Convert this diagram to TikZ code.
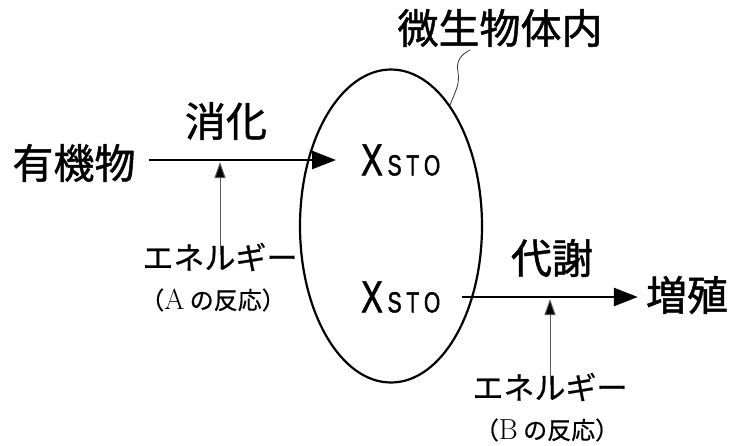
\documentclass[tikz,border=0pt]{standalone}
\usepackage{fontspec}
\newfontfamily\jp[FakeBold=1.2]{Noto Sans CJK JP}
\newfontfamily\jpl[FakeBold=0.6]{Noto Sans CJK JP}
\newfontfamily\nar[FakeStretch=0.72,FakeBold=1.5]{Liberation Sans}
\usetikzlibrary{arrows.meta,shapes.geometric}
\newcommand{\latinletter}[1]{{\rmfamily\fontsize{29}{29}\selectfont #1}}
\begin{document}
\begin{tikzpicture}[x=1pt,y=-1pt,
  big/.style={font=\jp\fontsize{41}{41}\selectfont, inner sep=0pt},
  mid/.style={font=\jpl\fontsize{31}{31}\selectfont, inner sep=0pt},
  small/.style={font=\jpl\fontsize{24}{24}\selectfont, inner sep=0pt},
  xs/.style={inner sep=0pt, anchor=west},
  main/.style={line width=2.6pt, -{Triangle[length=24pt,width=18pt]}},
  thinarr/.style={line width=1pt, black!65, -{Triangle[length=16pt,width=11pt,fill=black]}},
  leader/.style={line width=0.8pt, black!80}]
\useasboundingbox (0,0) rectangle (729,445);
\node[draw, ellipse, line width=2.2pt, minimum width=182pt, minimum height=313pt, inner sep=0pt] (cell) at (391,226) {};
\node[big] (org) at (74,163) {有機物};
\node[big] (dig) at (226,121) {消化};
\node[big] (inside) at (500,28) {微生物体内};
\node[xs] (x1) at (361,160) {\nar\fontsize{45}{45}\selectfont X\fontsize{29}{29}\selectfont\,S\,T\,O};
\node[xs] (x2) at (361,297) {\nar\fontsize{45}{45}\selectfont X\fontsize{29}{29}\selectfont\,S\,T\,O};
\node[big] (met) at (552,258) {代謝};
\node[big] (grow) at (687,295) {増殖};
\node[mid] (eA) at (220,257) {エネルギー};
\node[small] (rA) at (213,300) {（\latinletter{A} の反応）};
\node[mid] (eB) at (550,387) {エネルギー};
\node[small] (rB) at (547,430) {（\latinletter{B} の反応）};
\draw[main, shorten <=13pt, shorten >=25pt] (org.east |- x1.west) -- (x1.west);
\draw[main, shorten <=22pt, shorten >=8pt] (x2.east) -- (grow.west |- x2.east);
\draw[thinarr, shorten <=-12pt, shorten >=2pt] (eA.north) -- (eA.north |- x1.west);
\draw[thinarr, shorten <=-12pt, shorten >=2pt] (eB.north) -- (eB.north |- x2.east);
\coordinate (ltop) at (470,50);
\draw[leader] (ltop) .. controls (460,55) and (456,62) .. (458,72) .. controls (460,85) and (455,92) .. (cell.64);
\end{tikzpicture}
\end{document}
